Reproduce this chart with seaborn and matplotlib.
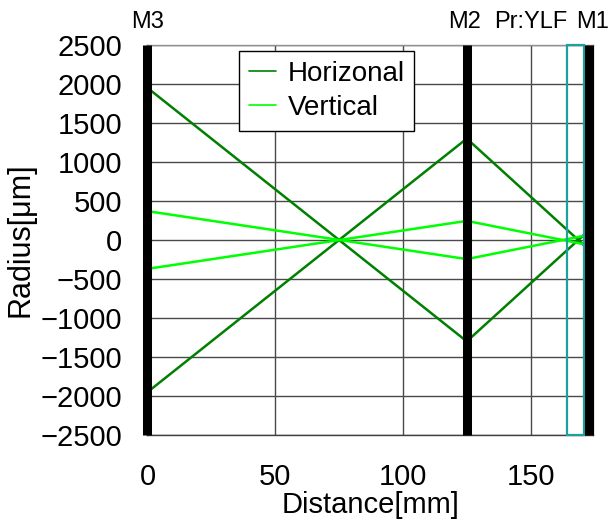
import matplotlib
matplotlib.use("Agg")
import matplotlib.pyplot as plt
import matplotlib.patches as mpatches
import seaborn as sns
import pandas as pd

# ---- data ----
stations = [0, 125, 171, 174]          # distance [mm]
horiz_a = [1950, -1300, 70, 0]          # radius [um]
horiz_b = [-1950, 1300, -70, 0]
vert_a = [370, -245, 55, 0]
vert_b = [-370, 245, -55, 0]
mirror_pos = [0, 125, 173]
mirror_names = ["M3", "M2", "M1"]
crystal_range = [164.4, 171.0]
crystal_name = "Pr:YLF"
xticks = [0, 50, 100, 150]
yticks = list(range(-2500, 2501, 500))

rows = []
for name, branch, vals in [("Horizonal", "a", horiz_a), ("Horizonal", "b", horiz_b),
                           ("Vertical", "a", vert_a), ("Vertical", "b", vert_b)]:
    for x, y in zip(stations, vals):
        rows.append({"Distance": x, "Radius": y, "Plane": name, "Branch": name + branch})
df = pd.DataFrame(rows)

sns.set_theme(style="white")
plt.rcParams["font.family"] = ["Liberation Sans", "DejaVu Sans"]
plt.rcParams["text.color"] = "black"
plt.rcParams["axes.labelcolor"] = "black"

fig = plt.figure(figsize=(6.11, 5.27), dpi=100)
ax = fig.add_axes([0.2414, 0.1746, 0.9705 - 0.2414, 0.9146 - 0.1746])

sns.lineplot(data=df, x="Distance", y="Radius", hue="Plane", units="Branch",
             estimator=None, sort=False, palette={"Horizonal": "#008000", "Vertical": "#00ff00"},
             linewidth=1.8, ax=ax, legend=False, zorder=3)

ax.set_xlim(0, 174.4)
ax.set_ylim(-2500, 2500)
ax.set_xticks(xticks)
ax.set_yticks(yticks)
ax.set_yticklabels([str(t).replace("-", "\u2212") for t in yticks])
ax.grid(True, color="#4a4a4a", linewidth=1.0)
ax.set_axisbelow(True)
for s in ["top", "right"]:
    ax.spines[s].set_color("#909090")
for s in ["bottom", "left"]:
    ax.spines[s].set_color("#404040")
for s in ax.spines.values():
    s.set_linewidth(1.0)
ax.tick_params(axis="both", length=0, labelsize=21, colors="black")
ax.tick_params(axis="y", pad=18)
ax.tick_params(axis="x", pad=20)

# crystal
rect = mpatches.Rectangle((crystal_range[0], -2500), crystal_range[1] - crystal_range[0], 5000,
                          fill=False, edgecolor="#1fa0a0", linewidth=1.6, zorder=4, clip_on=False)
ax.add_patch(rect)

# mirrors
label_x = {"M3": 0, "M2": 124, "M1": 174.4}
for xp, nm in zip(mirror_pos, mirror_names):
    ax.vlines(xp, -2500, 2500, color="black", linewidth=6.5, zorder=5, clip_on=False)
    ax.text(label_x[nm], 1.058, nm, transform=ax.get_xaxis_transform(), ha="center", va="center",
            fontsize=17, color="black")
ax.text(150.1, 1.058, crystal_name, transform=ax.get_xaxis_transform(),
        ha="center", va="center", fontsize=17, color="black")

ax.set_xlabel("Distance[mm]", fontsize=21, labelpad=0, color="black")
ax.set_ylabel("Radius[μm]", fontsize=22, labelpad=4, color="black")

handles = [plt.Line2D([], [], color="#008000", lw=1.2), plt.Line2D([], [], color="#00ff00", lw=1.2)]
leg = ax.legend(handles, ["Horizonal", "Vertical"], loc="upper left",
                bbox_to_anchor=(0.205, 0.985), borderaxespad=0, fontsize=20, frameon=True,
                fancybox=False, edgecolor="black", handlelength=1.0, handletextpad=0.4,
                borderpad=0.35, labelspacing=0.3, framealpha=1, labelcolor="black")
leg.get_frame().set_linewidth(1.0)
leg.set_zorder(6)

fig.savefig("out.png", dpi=100)
